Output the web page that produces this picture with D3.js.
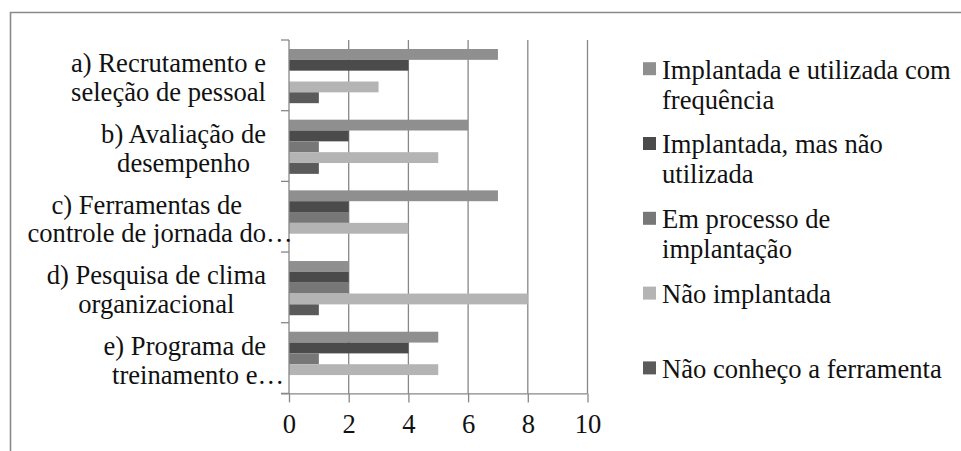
<!DOCTYPE html>
<html>
<head>
<meta charset="utf-8">
<script src="https://cdn.jsdelivr.net/npm/d3@7"></script>
<style>
  html, body { margin: 0; padding: 0; background: #fff; }
  svg { display: block; }
</style>
</head>
<body>
<svg id="chart" width="961" height="451"></svg>
<script>
// ---- data ----
const categories = ["a", "b", "c", "d", "e"];
const categoryLabels = [
  ["a) Recrutamento e", "seleção de pessoal"],
  ["b) Avaliação de", "desempenho"],
  ["c) Ferramentas de", "controle de jornada do…"],
  ["d) Pesquisa de clima", "organizacional"],
  ["e) Programa de", "treinamento e…"]
];
const seriesNames = [
  "Implantada e utilizada com frequência",
  "Implantada, mas não utilizada",
  "Em processo de implantação",
  "Não implantada",
  "Não conheço a ferramenta"
];
const legendLines = [
  ["Implantada e utilizada com", "frequência"],
  ["Implantada, mas não", "utilizada"],
  ["Em processo de", "implantação"],
  ["Não implantada"],
  ["Não conheço a ferramenta"]
];
const implantadaUtilizada = [7, 6, 7, 2, 5];
const implantadaNaoUtilizada = [4, 2, 2, 2, 4];
const emProcesso = [0, 1, 2, 2, 1];
const naoImplantada = [3, 5, 4, 8, 5];
const naoConheco = [1, 1, 0, 1, 0];
const seriesValues = [implantadaUtilizada, implantadaNaoUtilizada, emProcesso, naoImplantada, naoConheco];
const seriesColors = ["#8f8f8f", "#4b4b4b", "#777777", "#b4b4b4", "#5a5a5a"];
const xTicks = [0, 2, 4, 6, 8, 10];

// ---- layout ----
const FONT = "'Liberation Serif', 'Times New Roman', serif";
const TEXT_COLOR = "#111111";
const svg = d3.select("#chart");
const plot = { left: 289, right: 587.5, top: 40, bottom: 393.4 };
const gridColor = "#878787";
const fontSize = 26.6;

const x = d3.scaleLinear().domain([0, 10]).range([plot.left, plot.right]);
const y = d3.scaleBand().domain(categories).range([plot.top, plot.bottom]).padding(0);
const inner = d3.scaleBand().domain(d3.range(seriesNames.length))
  .range([9, y.bandwidth() - 7.5]).padding(0);

// outer frame
svg.append("path")
  .attr("d", "M10.5,451 L10.5,12.5 L961,12.5")
  .attr("fill", "none").attr("stroke", "#8a8a8a").attr("stroke-width", 1.6);

// gridlines
svg.append("g").selectAll("line").data(xTicks.filter(d => d > 0)).join("line")
  .attr("x1", d => x(d)).attr("x2", d => x(d))
  .attr("y1", plot.top).attr("y2", plot.bottom)
  .attr("stroke", gridColor).attr("stroke-width", 1.3);

// bars
const rows = [];
categories.forEach((c, ci) => seriesValues.forEach((vals, si) => rows.push({ c, si, v: vals[ci] })));
svg.append("g").selectAll("rect").data(rows.filter(d => d.v > 0)).join("rect")
  .attr("x", x(0))
  .attr("y", d => y(d.c) + inner(d.si))
  .attr("width", d => x(d.v) - x(0))
  .attr("height", inner.bandwidth())
  .attr("fill", d => seriesColors[d.si]);

// bottom axis
const xAxis = d3.axisBottom(x).tickValues(xTicks).tickSize(9).tickPadding(12).tickFormat(d3.format("d"));
const gx = svg.append("g").attr("transform", `translate(0,${plot.bottom})`).call(xAxis)
  .attr("font-family", FONT).attr("font-size", fontSize);
gx.select(".domain").attr("stroke", gridColor).attr("stroke-width", 1.3)
  .attr("d", `M${plot.left - 8},0.5H${plot.right}`);
gx.selectAll(".tick line").attr("stroke", gridColor).attr("stroke-width", 1.3);
gx.selectAll(".tick text")
  .attr("font-family", FONT)
  .attr("font-size", fontSize).attr("fill", TEXT_COLOR).attr("dy", "0.71em");

// left axis line + category boundary ticks
svg.append("line")
  .attr("x1", plot.left).attr("x2", plot.left)
  .attr("y1", plot.top).attr("y2", plot.bottom)
  .attr("stroke", gridColor).attr("stroke-width", 1.3);
const boundaries = categories.map(c => y(c)).concat([plot.bottom]);
svg.append("g").selectAll("line").data(boundaries).join("line")
  .attr("x1", plot.left - 8).attr("x2", plot.left)
  .attr("y1", d => d).attr("y2", d => d)
  .attr("stroke", gridColor).attr("stroke-width", 1.3);

// category labels (lines centred within block, block right-aligned)
const labelRight = 266;
const catG = svg.append("g").attr("font-family", FONT).attr("font-size", fontSize).attr("fill", TEXT_COLOR);
categories.forEach((c, ci) => {
  const cy = y(c) + y.bandwidth() / 2;
  const lines = categoryLabels[ci];
  const texts = lines.map((ln, li) => {
    const base = ln.replace("…", "");
    const t = catG.append("text")
      .attr("font-family", FONT).attr("font-size", fontSize).attr("fill", TEXT_COLOR)
      .attr("y", cy - 3 + li * 28.5).text(base);
    const w = t.node().getComputedTextLength();
    return { t, w, ln };
  });
  const maxW = d3.max(texts, d => d.w);
  const center = labelRight - maxW / 2;
  texts.forEach(d => {
    d.t.attr("x", center - d.w / 2).text(d.ln);
  });
});

// legend
const legG = svg.append("g").attr("font-family", FONT).attr("font-size", fontSize).attr("fill", TEXT_COLOR);
legendLines.forEach((lines, i) => {
  const base = 78.5 + i * 74.8;
  legG.append("rect")
    .attr("x", 643).attr("y", base - 16.3).attr("width", 13).attr("height", 13)
    .attr("fill", seriesColors[i]);
  lines.forEach((ln, li) => {
    legG.append("text")
      .attr("font-family", FONT).attr("font-size", fontSize).attr("fill", TEXT_COLOR)
      .attr("x", 662).attr("y", base + li * 30).text(ln);
  });
});
</script>
</body>
</html>
